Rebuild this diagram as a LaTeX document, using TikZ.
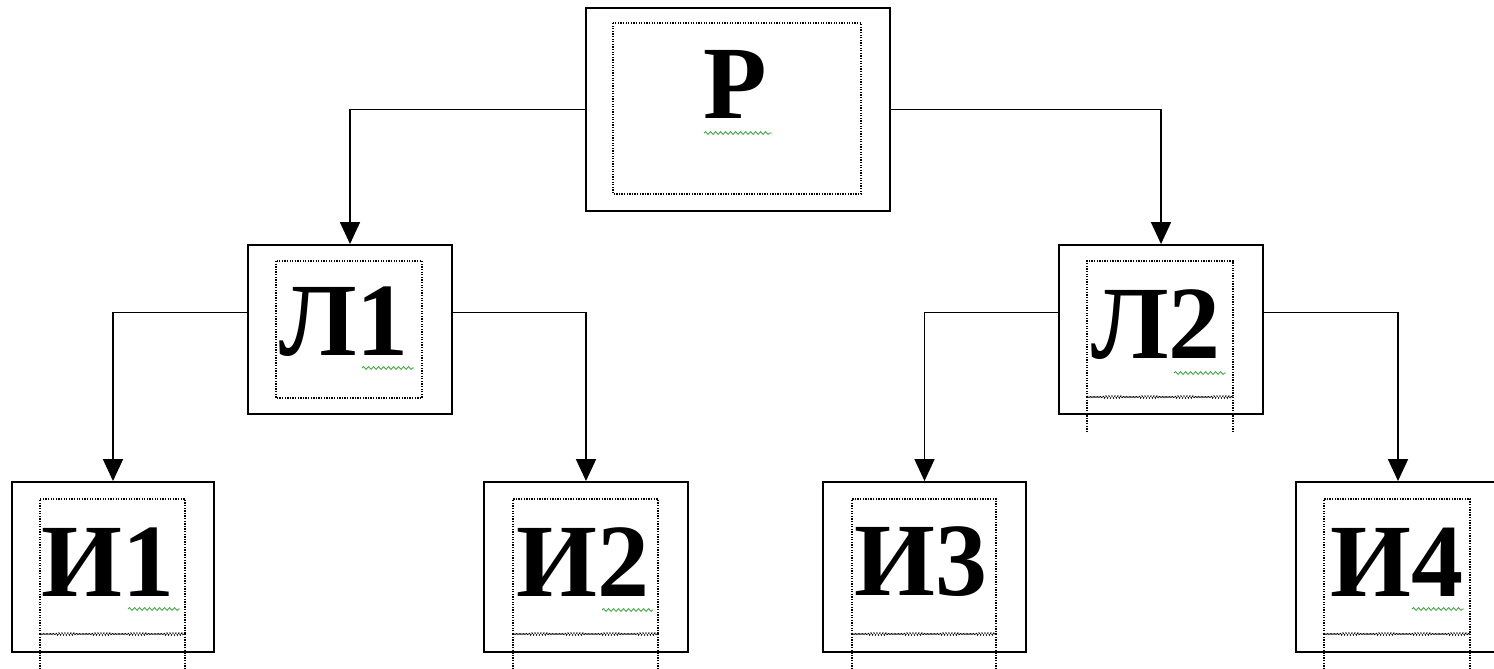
\documentclass[tikz,border=0pt]{standalone}
\usepackage{fontspec}
\setmainfont{Liberation Serif}
\usetikzlibrary{arrows.meta,decorations.pathmorphing,calc}
\definecolor{squig}{RGB}{70,170,70}
\tikzset{
  outer/.style={draw=black, line width=1.9pt, fill=none, inner sep=0pt},
  inner/.style={draw=black, line width=1.3pt, dash pattern=on 1.3pt off 1.3pt},
  lbl/.style={anchor=base, inner sep=0pt, font=\fontsize{104}{104}\selectfont\bfseries},
  arr/.style={line width=1.7pt, -{Triangle[width=20pt,length=22pt]}},
  squiggle/.style={draw=squig, line width=0.9pt, decorate, decoration={snake, amplitude=1.4pt, segment length=5pt}},
  wavy/.style={draw=black, line width=1.1pt, dash pattern=on 1.2pt off 1.2pt, decorate, decoration={snake, amplitude=1pt, segment length=3pt}},
  vdots/.style={draw=black, line width=1.3pt, dash pattern=on 1.3pt off 1.3pt},
}
\begin{document}
\begin{tikzpicture}[x=1pt,y=-1pt]
\useasboundingbox (0,0) rectangle (1494,669);
\clip (0,0) rectangle (1494,669);
% outer boxes
\node[outer, minimum width=304pt, minimum height=203pt] (P) at (738,109.5) {};
\node[outer, minimum width=204pt, minimum height=169pt] (L1) at (350,329.5) {};
\node[outer, minimum width=204pt, minimum height=169pt] (L2) at (1161,329.5) {};
\node[outer, minimum width=202pt, minimum height=170pt] (I1) at (113,567) {};
\node[outer, minimum width=204pt, minimum height=170pt] (I2) at (586,567) {};
\node[outer, minimum width=203pt, minimum height=170pt] (I3) at (924.5,567) {};
\node[outer, minimum width=204pt, minimum height=170pt] (I4) at (1398,567) {};
% inner dotted frames
\draw[inner] (613,23) rectangle (861,194);
\draw[inner] (276,261) rectangle (422,398);
\draw[inner] (1087,397) -- (1087,261) -- (1233,261) -- (1233,397);
\draw[vdots] (1087,397) -- (1087,432);
\draw[vdots] (1233,397) -- (1233,432);
\draw[wavy] (1087,397) -- (1233,397);
\foreach \a/\b in {40/185, 513/658, 852/996, 1324/1470}{
  \draw[inner] (\a,634) -- (\a,499) -- (\b,499) -- (\b,634);
  \draw[vdots] (\a,634) -- (\a,669);
  \draw[vdots] (\b,634) -- (\b,669);
  \draw[wavy] (\a,634) -- (\b,634);
}
% labels
\node[lbl] (tP) at (735,118) {Р};
\node[lbl] (tL1) at (344,355) {Л1};
\node[lbl] (tL2) at (1156,358) {Л2};
\node[lbl] (tI1) at (108,596) {И1};
\node[lbl] (tI2) at (583,596) {И2};
\node[lbl] (tI3) at (921,595) {И3};
\node[lbl] (tI4) at (1397,596) {И4};
% squiggles
\draw[squiggle] (704,133) -- (772,133);
\draw[squiggle] (362,368) -- (414,368);
\draw[squiggle] (1174,373) -- (1226,373);
\draw[squiggle] (128,609) -- (180,609);
\draw[squiggle] (602,610) -- (653,610);
\draw[squiggle] (1412,609) -- (1464,609);
% connectors
\draw[arr] (P.west) -| (L1.north);
\draw[arr] (P.east) -| (L2.north);
\draw[arr] ($(L1.west)+(0,-17)$) -| (I1.north);
\draw[arr] ($(L1.east)+(0,-17)$) -| (I2.north);
\draw[arr] ($(L2.west)+(0,-17)$) -| (I3.north);
\draw[arr] ($(L2.east)+(0,-17)$) -| (I4.north);
\end{tikzpicture}
\end{document}
